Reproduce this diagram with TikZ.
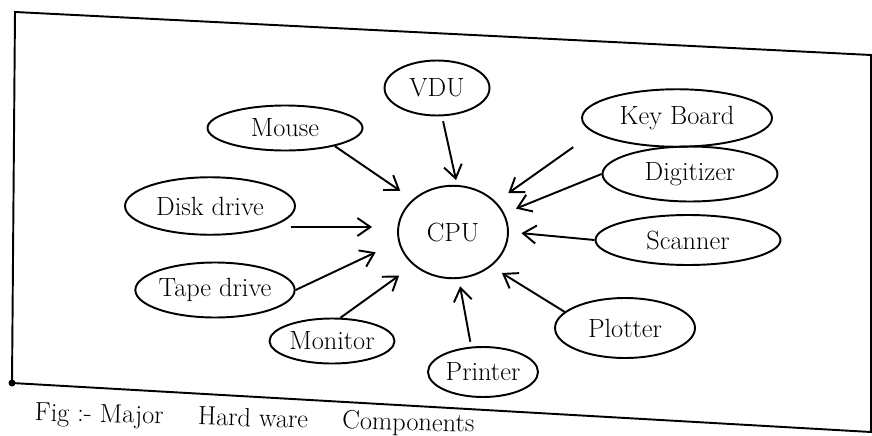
\documentclass[tikz,border=0pt]{standalone}
\usepackage{tikz}
\usetikzlibrary{shapes,arrows.meta,positioning,calc}

\begin{document}
\begin{tikzpicture}[x=0.02cm, y=-0.02cm, line width=1.1pt,
        every node/.style={font=\fontsize{15}{18}\selectfont},
        part/.style={draw, ellipse, inner sep=0pt},
        feed/.style={-{Straight Barb[length=2.6mm,width=3.6mm]}}]
            \useasboundingbox (0,0) rectangle (872,436);

            % Frame
            \draw (15,12) -- (871,55) -- (871,432) -- (12,383) -- cycle;
            \fill (12,383) circle (3.5);

            % Centre
            \node[part, minimum width=2.2cm, minimum height=1.85cm] (cpu) at (453,232) {CPU};

            % Top and left
            \node[part, minimum width=2.1cm, minimum height=1.1cm] (vdu) at (437,88) {VDU};
            \node[part, minimum width=3.1cm, minimum height=0.9cm] (mouse) at (285,128) {Mouse};
            \node[part, minimum width=3.4cm, minimum height=1.15cm] (disk) at (210,206) {Disk drive};
            \node[part, minimum width=3.0cm, minimum height=1.1cm] (tape) at (215,290) {Tape drive};
            \node[part, minimum width=2.5cm, minimum height=0.9cm] (monitor) at (332,341) {Monitor};

            % Right and bottom
            \node[part, minimum width=3.8cm, minimum height=1.15cm] (keyb) at (677,118) {Key Board};
            \node[part, minimum width=3.5cm, minimum height=1.1cm] (digit) at (690,174) {Digitizer};
            \node[part, minimum width=3.7cm, minimum height=1.0cm] (scan) at (688,240) {Scanner};
            \node[part, minimum width=2.8cm, minimum height=1.2cm] (plot) at (625,328) {Plotter};
            \node[part, minimum width=2.2cm, minimum height=1.0cm] (prn) at (483,372) {Printer};

            % Arrows into the CPU
            \draw[feed, shorten >=0.3cm] (mouse.-20) -- (cpu.141);
            \draw[feed, shorten <=0.1cm, shorten >=0.1cm] (vdu.-80) -- (cpu.85);
            \draw[feed, shorten <=0.5cm, shorten >=0.3cm] (keyb.190) -- (cpu.35);
            \draw[feed, shorten >=0.25cm] (digit.west) -- (cpu.20);
            \draw[feed, shorten >=0.25cm] (scan.west) -- (cpu.east);
            \draw[feed, shorten >=0.25cm] (plot.165) -- (cpu.-42);
            \draw[feed, shorten <=0.1cm, shorten >=0.15cm] (prn.115) -- (cpu.-83);
            \draw[feed, shorten >=0.35cm] (monitor.70) -- (cpu.220);
            \draw[feed, shorten >=0.5cm] (tape.east) -- (cpu.190);
            \draw[feed, shorten <=0.4cm, shorten >=0.5cm] (disk.south east) -- (disk.south east -| cpu.west);

            % Caption
            \node[anchor=west, rotate=-1.5] (caption) at (28,414) {Fig :- Major \quad Hard ware \quad Components};
        \end{tikzpicture}
\end{document}
